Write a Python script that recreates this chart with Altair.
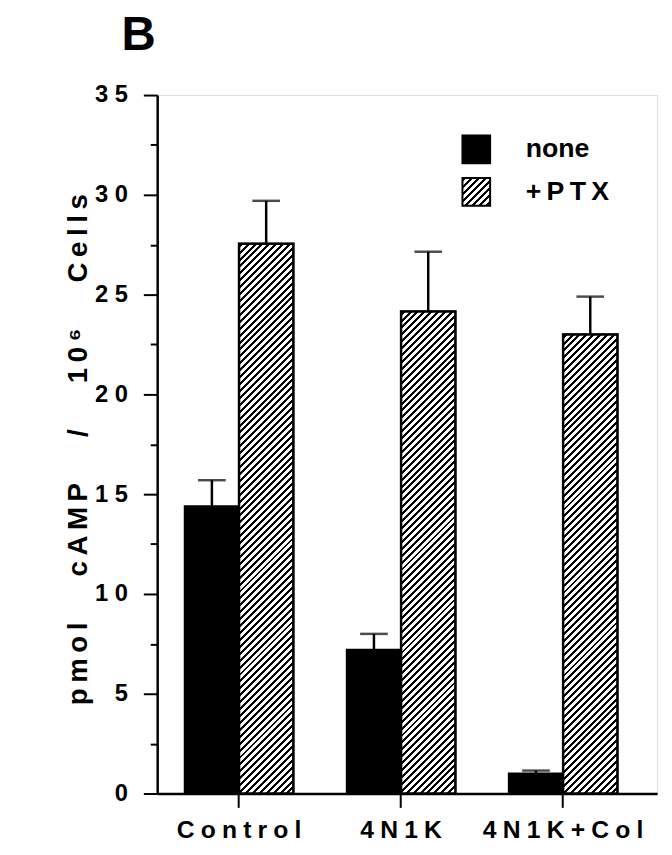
import altair as alt
import pandas as pd

# ---- data ----
groups = ["Control", "4N1K", "4N1K+Col"]
series = ["none", "+PTX"]
none_vals = [14.4, 7.2, 1.0]
none_err = [1.3, 0.8, 0.15]
ptx_vals = [27.55, 24.15, 23.0]
ptx_err = [2.15, 3.0, 1.9]
y_ticks = [0, 2.5, 5, 7.5, 10, 12.5, 15, 17.5, 20, 22.5, 25, 27.5, 30, 32.5, 35]
y_title_words = ["pmol", "cAMP", "/", "10\u2076", "Cells"]

rows = []
for i, g in enumerate(groups):
    rows.append(dict(group=g, series=series[0], value=none_vals[i], err=none_err[i]))
    rows.append(dict(group=g, series=series[1], value=ptx_vals[i], err=ptx_err[i]))
df = pd.DataFrame(rows)
legend_df = pd.DataFrame({"series": series})

# ---- layout / style ----
W, H = 506, 707
YMAX = 35
FONT = "Liberation Sans"
THIN = "\u2009"
MID = "\u2005"
P_IN, P_OUT, ALIGN = 0.33, 0.2075, 0.41
step = W / (len(groups) - P_IN + 2 * P_OUT)
bar_w = (1 - P_IN) * step / 2

y_title = ("\u00a0" * 6).join(THIN.join(list(w)) for w in y_title_words)


def hatch(w, h, period=7.0, black=3.0):
    L = w + h
    a = L / (w * w + h * h)
    stops = [{"offset": 0, "color": "white"}]
    s = 1.5
    while s < L:
        t0 = round(s / L, 5)
        t1 = round(min((s + black) / L, 1.0), 5)
        stops += [{"offset": t0, "color": "white"}, {"offset": t0, "color": "black"},
                  {"offset": t1, "color": "black"}, {"offset": t1, "color": "white"}]
        s += period
    stops.append({"offset": 1, "color": "white"})
    return {"gradient": "linear", "x1": 0, "y1": 0, "x2": a * w, "y2": a * h, "stops": stops}


legend_grad = hatch(28, 28)
spaced = "join(split(datum.label, ''), '" + MID + "')"

x_enc = alt.X("group:N", sort=groups,
              scale=alt.Scale(paddingInner=P_IN, paddingOuter=P_OUT, align=ALIGN),
              axis=alt.Axis(title=None, labelAngle=0, labelExpr=spaced,
                            labelFont=FONT, labelFontSize=25, labelFontWeight="bold",
                            labelColor="black", labelPadding=10, tickSize=14, tickWidth=2,
                            tickColor="black", domainWidth=2.5, domainColor="black"))
xo_enc = alt.XOffset("series:N", sort=series,
                     scale=alt.Scale(domain=series, paddingInner=0, paddingOuter=0))
y_enc = alt.Y("value:Q",
              scale=alt.Scale(domain=[0, YMAX], nice=False),
              axis=alt.Axis(values=y_ticks, grid=False,
                            labelExpr="datum.value % 5 === 0 ? join(split(datum.label, ''), ' ') : ''",
                            tickSize={"condition": {"test": "datum.value % 5 === 0", "value": 14}, "value": 7},
                            tickWidth=2, tickColor="black", domainWidth=2.5, domainColor="black",
                            labelFont=FONT, labelFontSize=24, labelFontWeight="bold",
                            labelColor="black", labelPadding=16,
                            title=y_title, titleFont=FONT, titleFontSize=28,
                            titleFontWeight="bold", titleColor="black",
                            titleX=-80, titleY=H / 2 + 5, titleAngle=-90,
                            titleAlign="center", titleBaseline="middle"))

base = alt.Chart(df)

bars = base.mark_bar(stroke="black", strokeWidth=2).encode(
    x=x_enc, xOffset=xo_enc, y=y_enc,
    color=alt.Color("series:N", sort=series,
                    scale=alt.Scale(domain=series, range=["black", "white"]),
                    legend=None),
)

hatch_conds = [{"test": f"datum.group === '{g}'", "value": hatch(bar_w, v * H / YMAX)}
               for g, v in zip(groups, ptx_vals)]

hatched = base.transform_filter("datum.series === '+PTX'").mark_bar(
    stroke="black", strokeWidth=2.5).encode(
    x=x_enc, xOffset=xo_enc, y=y_enc,
    fill=alt.FillValue(value="white", condition=hatch_conds),
)

err_base = base.transform_calculate(upper="datum.value + datum.err")
rules = err_base.mark_rule(color="black", strokeWidth=2.5).encode(
    x=x_enc, xOffset=xo_enc, y=y_enc, y2="upper:Q")
caps = err_base.mark_tick(color="black", thickness=2.5, size=28).encode(
    x=x_enc, xOffset=xo_enc, y=alt.Y("upper:Q"))

main = alt.layer(bars, hatched, rules, caps)

# manual legend (hatched symbol needs a gradient fill)
leg_y = alt.Y("series:N", sort=series,
              scale=alt.Scale(type="point", domain=series, range=[55, 98], padding=0),
              axis=None)
leg_sym = alt.Chart(legend_df).mark_square(size=784, stroke="black", strokeWidth=2,
                                           opacity=1).encode(
    x=alt.value(323), y=leg_y,
    fill=alt.FillValue(value="black",
                       condition=[{"test": "datum.series === '+PTX'", "value": legend_grad}]),
)
leg_txt = alt.Chart(legend_df).transform_calculate(
    lab="test(/[A-Z]/, datum.series) ? join(split(datum.series, ''), '" + THIN + "') : datum.series"
).mark_text(align="left", baseline="middle", font=FONT,
            fontSize=27, fontWeight="bold", color="black").encode(
    x=alt.value(373), y=leg_y,
    text=alt.Text("lab:N"),
)
legend_layer = alt.layer(leg_sym, leg_txt)

chart = alt.layer(main, legend_layer).resolve_scale(y="independent").properties(
    width=W, height=H,
    autosize=alt.AutoSizeParams(type="none"),
    padding={"left": 151, "top": 83, "right": 7, "bottom": 49},
    title=alt.TitleParams("B", anchor="start", dx=-36, fontSize=48, font=FONT,
                          fontWeight="bold", color="black", offset=24,
                          frame="group"),
).configure_view(stroke=None).configure(background="white")

chart.save("out.html", embed_options={"renderer": "svg", "actions": False})
